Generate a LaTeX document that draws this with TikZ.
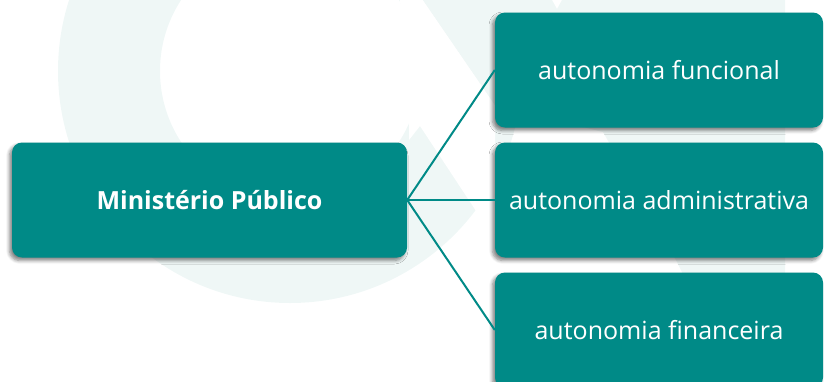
\documentclass[tikz,border=0pt]{standalone}
\usepackage{fontspec}
\setmainfont{Open Sans}
\usetikzlibrary{shadows.blur}
\definecolor{teal}{RGB}{0,138,135}
\definecolor{wmark}{RGB}{239,247,246}
\tikzset{
  box/.style={rectangle, rounded corners=10pt, fill=teal, text=white,
    inner sep=0pt, font=\fontsize{25}{30}\selectfont,
    blur shadow={shadow xshift=-2.5pt, shadow yshift=-3pt, shadow blur radius=3.5pt,
      shadow blur steps=6, shadow opacity=50}},
  leftbox/.style={box, minimum width=395pt, minimum height=115pt},
  rightbox/.style={box, minimum width=328pt, minimum height=115pt},
  link/.style={draw=teal, line width=2pt}
}
\begin{document}
\begin{tikzpicture}[x=1pt, y=-1pt]
  \useasboundingbox (0,0) rectangle (824,381);
  \begin{scope}
    \clip (0,0) rectangle (824,381);
    % faint logo watermark in the background
    \fill[wmark, even odd rule] (290,71) circle[radius=232pt] (290,71) circle[radius=130pt];
    \fill[white] (399,-5) -- (423,-5) -- (423,0) -- (495,105) -- (495,235)
      -- (480,217) -- (420,126) -- (409,140) -- (409,60) -- cycle;
    \fill[wmark] (423,0) -- (552,0) -- (557,9) -- (562,0) -- (785,0) -- (785,381)
      -- (735,381) -- (677,262) -- (603,132) -- (495,105) -- cycle;

    % boxes
    \node[leftbox]  (mp) at (209.5,200) {\bfseries Ministério Público};
    \node[rightbox] (af) at (659,70)  {autonomia funcional};
    \node[rightbox] (aa) at (659,200) {autonomia administrativa};
    \node[rightbox] (an) at (659,330) {autonomia financeira};

    % connectors
    \draw[link] (mp.east) -- (af.west);
    \draw[link] (mp.east) -- (aa.west);
    \draw[link] (mp.east) -- (an.west);
  \end{scope}
\end{tikzpicture}
\end{document}
